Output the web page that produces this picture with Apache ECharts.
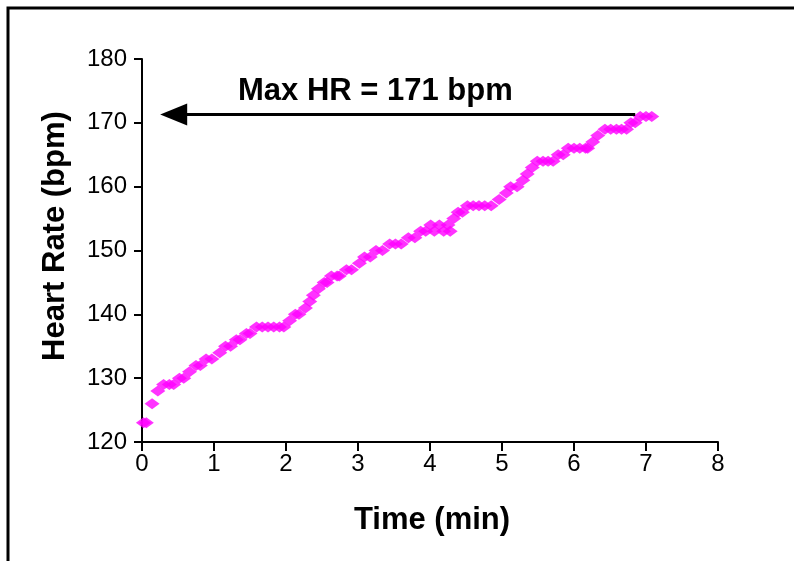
<!DOCTYPE html>
<html>
<head>
<meta charset="utf-8">
<script src="https://cdn.jsdelivr.net/npm/echarts@6/dist/echarts.min.js"></script>
<style>
  html, body { margin: 0; padding: 0; background: #fff; }
  #chart { width: 794px; height: 561px; }
</style>
</head>
<body>
<div id="chart"></div>
<script>
// time in minutes, heart rate in bpm
var timeMin = [
  0.02, 0.06, 0.14, 0.22, 0.30, 0.38, 0.44, 0.52, 0.58, 0.66, 0.75, 0.81, 0.89, 0.97,
  1.08, 1.16, 1.23, 1.31, 1.36, 1.45, 1.50, 1.59, 1.67, 1.75, 1.83, 1.91, 1.97,
  2.05, 2.13, 2.18, 2.27, 2.33, 2.38, 2.45, 2.53, 2.57, 2.63, 2.71, 2.74, 2.84, 2.91,
  3.02, 3.09, 3.17, 3.25, 3.34, 3.44, 3.52, 3.60, 3.70, 3.79, 3.87, 3.94,
  4.01, 4.06, 4.13, 4.19, 4.25, 4.28, 4.33, 4.39, 4.45, 4.52, 4.60, 4.68, 4.76, 4.85, 4.96,
  5.06, 5.12, 5.21, 5.29, 5.35, 5.42, 5.49, 5.57, 5.64, 5.71, 5.78, 5.85, 5.92,
  6.00, 6.08, 6.16, 6.19, 6.26, 6.33, 6.43, 6.51, 6.59, 6.66, 6.73, 6.79, 6.85, 6.92,
  7.00, 7.08
]
var heartRate = [
  123, 123, 126, 128, 129, 129, 129, 130, 130, 131, 132, 132, 133, 133,
  134, 135, 135, 136, 136, 137, 137, 138, 138, 138, 138, 138, 138,
  139, 140, 140, 141, 142, 143, 144, 145, 145, 146, 146, 146, 147, 147,
  148, 149, 149, 150, 150, 151, 151, 151, 152, 152, 153, 153,
  154, 153, 154, 153, 154, 153, 155, 156, 156, 157, 157, 157, 157, 157, 158,
  159, 160, 160, 161, 162, 163, 164, 164, 164, 164, 165, 165, 166,
  166, 166, 166, 166, 167, 168, 169, 169, 169, 169, 169, 170, 170, 171,
  171, 171
]
var maxHR = 171
var arrowFrom = [6.85, 171.3]
var arrowTo = [0.44, 171.3]

var points = timeMin.map(function (t, i) { return [t, heartRate[i]] })

var labelFont = 'Liberation Sans, Arial, sans-serif'
var myChart = echarts.init(document.getElementById('chart'))
myChart.setOption({
  animation: false,
  backgroundColor: '#fff',
  grid: { left: 142, right: 76, top: 59, bottom: 119 },
  xAxis: {
    type: 'value',
    min: 0,
    max: 8,
    interval: 1,
    axisLine: { show: true, lineStyle: { color: '#000', width: 2 } },
    axisTick: { show: true, length: 9, lineStyle: { color: '#000', width: 2 } },
    axisLabel: { color: '#000', fontSize: 24, fontFamily: labelFont, margin: 10 },
    splitLine: { show: false }
  },
  yAxis: {
    type: 'value',
    min: 120,
    max: 180,
    interval: 10,
    axisLine: { show: true, lineStyle: { color: '#000', width: 2 } },
    axisTick: { show: true, length: 8, lineStyle: { color: '#000', width: 2 } },
    axisLabel: { color: '#000', fontSize: 24, fontFamily: labelFont, margin: 15 },
    splitLine: { show: false }
  },
  series: [{
    type: 'scatter',
    data: points,
    symbol: 'diamond',
    symbolSize: [15, 11],
    itemStyle: { color: '#ff00ff' },
    markLine: {
      silent: true,
      animation: false,
      symbol: ['none', 'triangle'],
      symbolSize: [22, 27],
      label: { show: false },
      lineStyle: { color: '#000', width: 3, type: 'solid' },
      data: [[{ coord: arrowFrom }, { coord: arrowTo }]]
    }
  }],
  graphic: [
    {
      type: 'rect',
      shape: { x: 8, y: 8, width: 820, height: 600 },
      style: { fill: 'none', stroke: '#000', lineWidth: 3 },
      silent: true
    },
    {
      type: 'text',
      x: 238,
      y: 91,
      style: {
        text: 'Max HR = ' + maxHR + ' bpm',
        font: 'bold 31px ' + labelFont,
        fill: '#000',
        textAlign: 'left',
        textVerticalAlign: 'middle'
      }
    },
    {
      type: 'text',
      x: 432,
      y: 520,
      style: {
        text: 'Time (min)',
        font: 'bold 31px ' + labelFont,
        fill: '#000',
        textAlign: 'center',
        textVerticalAlign: 'middle'
      }
    },
    {
      type: 'text',
      x: 55,
      y: 236,
      rotation: Math.PI / 2,
      style: {
        text: 'Heart Rate (bpm)',
        font: 'bold 31px ' + labelFont,
        fill: '#000',
        textAlign: 'center',
        textVerticalAlign: 'middle'
      }
    }
  ]
})
</script>
</body>
</html>
